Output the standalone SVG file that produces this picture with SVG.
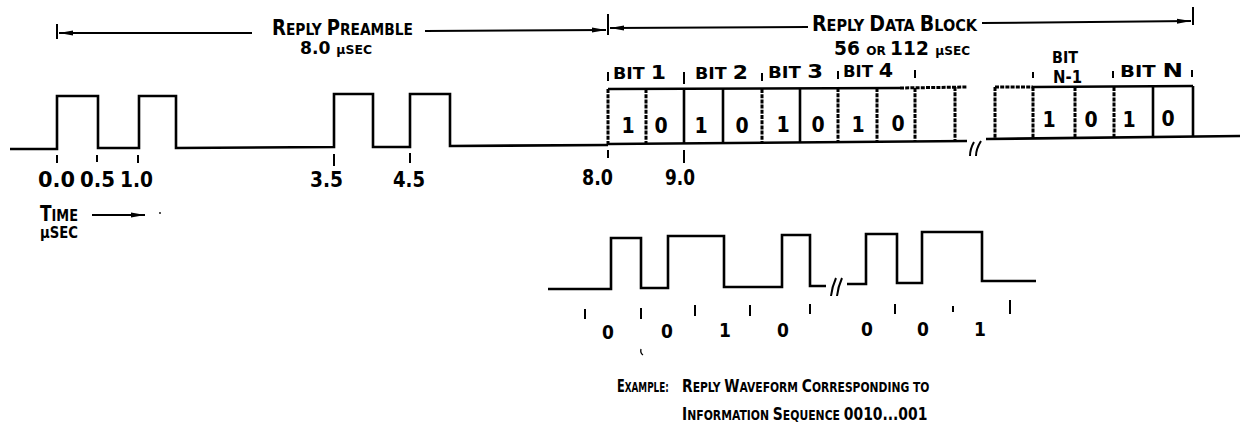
<svg xmlns="http://www.w3.org/2000/svg" width="1240" height="440" viewBox="0 0 1240 440">
<defs>
<marker id="ah" viewBox="0 0 14 6" refX="14" refY="3" markerWidth="14" markerHeight="6" markerUnits="userSpaceOnUse" orient="auto-start-reverse">
<path d="M0,0.5 L14,3 L0,5.5 z" fill="#000"/>
</marker>
<style>
.w{fill:none;stroke:#000;stroke-width:2.6;stroke-linejoin:miter}
.s{fill:none;stroke:#000;stroke-width:2.6}
.d{fill:none;stroke:#000;stroke-width:3;stroke-dasharray:4 1.2}
.tk{fill:none;stroke:#000;stroke-width:2}
.dim{fill:none;stroke:#000;stroke-width:2}
.t{font-family:"DejaVu Sans Condensed","DejaVu Sans",sans-serif;font-weight:bold;fill:#000}
.b{font-size:21px}
.m{font-size:16px}
.sm{font-size:13px}
.dg{font-size:21px;text-anchor:middle}
.bd{font-size:19px;text-anchor:middle}
.lb{font-size:22px}
.cb{font-size:18px}
.cs{font-size:14px}
</style>
</defs>

<g id="dimensions">
<line class="dim" x1="59" y1="33" x2="252" y2="33" marker-start="url(#ah)"/>
<line class="dim" x1="425" y1="31" x2="606" y2="30" marker-end="url(#ah)"/>
<line class="tk" x1="57" y1="24" x2="57" y2="39"/>
<line class="tk" x1="608" y1="14" x2="608" y2="35"/>
<line class="dim" x1="610" y1="28" x2="808" y2="27" marker-start="url(#ah)"/>
<line class="dim" x1="982" y1="23" x2="1191" y2="21" marker-end="url(#ah)"/>
<line class="tk" x1="1193" y1="7" x2="1193" y2="25"/>
<line class="dim" x1="92" y1="215" x2="145" y2="215" marker-end="url(#ah)"/>
<circle cx="160" cy="213" r="0.9" fill="#000"/>
</g>

<g id="preamble-waveform">
<polyline class="w" points="10,149 57,149 57,96 98,96 98,148 139,148 139,96 176,96 176,148 334,147 334,94 373,94 373,147 410,147 410,94 450,94 450,146 608,145"/>
<g id="preamble-ticks">
<line class="tk" x1="57" y1="155" x2="57" y2="163"/>
<line class="tk" x1="97" y1="155" x2="97" y2="162"/>
<line class="tk" x1="138" y1="155" x2="138" y2="163"/>
<line class="tk" x1="334" y1="154" x2="334" y2="166"/>
<line class="tk" x1="410" y1="153" x2="410" y2="163"/>
<line class="tk" x1="608" y1="150" x2="608" y2="158"/>
<line class="tk" x1="684" y1="150" x2="684" y2="163"/>
</g>
<text class="t lb" x="38" y="187" textLength="37" lengthAdjust="spacingAndGlyphs">0.0</text>
<text class="t lb" x="80" y="187" textLength="35" lengthAdjust="spacingAndGlyphs">0.5</text>
<text class="t lb" x="120" y="187" textLength="33" lengthAdjust="spacingAndGlyphs">1.0</text>
<text class="t lb" x="310" y="187" textLength="33" lengthAdjust="spacingAndGlyphs">3.5</text>
<text class="t lb" x="393" y="187" textLength="32" lengthAdjust="spacingAndGlyphs">4.5</text>
<text class="t lb" x="582" y="185" textLength="31" lengthAdjust="spacingAndGlyphs">8.0</text>
<text class="t lb" x="665" y="185" textLength="30" lengthAdjust="spacingAndGlyphs">9.0</text>
</g>

<g id="labels-top">
<text class="t" x="272" y="35" textLength="141" lengthAdjust="spacingAndGlyphs"><tspan class="b">R</tspan><tspan class="m">EPLY </tspan><tspan class="b">P</tspan><tspan class="m">REAMBLE</tspan></text>
<text class="t" x="300" y="54" textLength="72" lengthAdjust="spacingAndGlyphs"><tspan font-size="18">8.0 </tspan><tspan class="sm">μSEC</tspan></text>
<text class="t" x="812" y="31" textLength="165" lengthAdjust="spacingAndGlyphs"><tspan class="b">R</tspan><tspan class="m">EPLY </tspan><tspan class="b">D</tspan><tspan class="m">ATA </tspan><tspan class="b">B</tspan><tspan class="m">LOCK</tspan></text>
<text class="t" x="834" y="55" textLength="136" lengthAdjust="spacingAndGlyphs"><tspan font-size="20">56 </tspan><tspan class="sm">OR </tspan><tspan font-size="20">112 </tspan><tspan class="sm">μSEC</tspan></text>
</g>

<g id="time-label">
<text class="t" x="40" y="221" textLength="38" lengthAdjust="spacingAndGlyphs"><tspan font-size="21">T</tspan><tspan class="m">IME</tspan></text>
<text class="t" font-size="15" x="40" y="238" textLength="38" lengthAdjust="spacingAndGlyphs">μSEC</text>
</g>

<g id="bit-block-1">
<line class="s" x1="608" y1="89" x2="900" y2="88"/>
<line class="d" x1="900" y1="88" x2="967" y2="87"/>
<line class="s" x1="608" y1="144" x2="967" y2="141"/>
<line class="d" x1="608" y1="89" x2="608" y2="145"/>
<line class="d" x1="646" y1="89" x2="646" y2="144"/>
<line class="s" x1="684" y1="89" x2="684" y2="144"/>
<line class="s" x1="723" y1="89" x2="723" y2="143"/>
<line class="d" x1="762" y1="89" x2="762" y2="143"/>
<line class="s" x1="800" y1="88" x2="800" y2="143"/>
<line class="d" x1="838" y1="88" x2="838" y2="142"/>
<line class="d" x1="877" y1="88" x2="877" y2="142"/>
<line class="d" x1="915" y1="88" x2="915" y2="142"/>
<line class="d" x1="955" y1="87" x2="955" y2="141"/>
<text class="t dg" x="628" y="133">1</text>
<text class="t dg" x="661" y="133">0</text>
<text class="t dg" x="701" y="133">1</text>
<text class="t dg" x="742" y="133">0</text>
<text class="t dg" x="783" y="132">1</text>
<text class="t dg" x="818" y="132">0</text>
<text class="t dg" x="858" y="132">1</text>
<text class="t dg" x="898" y="131">0</text>
<line class="tk" x1="608" y1="72" x2="608" y2="81"/>
<line class="tk" x1="684" y1="72" x2="684" y2="84"/>
<line class="tk" x1="762" y1="73" x2="762" y2="81"/>
<line class="tk" x1="838" y1="71" x2="838" y2="79"/>
<line class="tk" x1="915" y1="70" x2="915" y2="78"/>
<text class="t" x="613" y="79" textLength="53" lengthAdjust="spacingAndGlyphs"><tspan class="m">BIT </tspan><tspan font-size="20">1</tspan></text>
<text class="t" x="695" y="79" textLength="53" lengthAdjust="spacingAndGlyphs"><tspan class="m">BIT </tspan><tspan font-size="20">2</tspan></text>
<text class="t" x="768" y="78" textLength="55" lengthAdjust="spacingAndGlyphs"><tspan class="m">BIT </tspan><tspan font-size="20">3</tspan></text>
<text class="t" x="843" y="77" textLength="50" lengthAdjust="spacingAndGlyphs"><tspan class="m">BIT </tspan><tspan font-size="20">4</tspan></text>
</g>

<g id="break-top">
<path class="tk" d="M970,156 q0,-7 4,-14"/>
<path class="tk" d="M976,156 q0,-7 5,-15"/>
</g>

<g id="bit-block-2">
<line class="s" x1="986" y1="139" x2="1240" y2="136"/>
<line class="d" x1="995" y1="87" x2="1033" y2="87"/>
<line class="s" x1="1033" y1="87" x2="1193" y2="86"/>
<line class="d" x1="995" y1="87" x2="995" y2="139"/>
<line class="d" x1="1033" y1="87" x2="1033" y2="138"/>
<line class="d" x1="1075" y1="87" x2="1075" y2="138"/>
<line class="d" x1="1114" y1="87" x2="1114" y2="137"/>
<line class="s" x1="1153" y1="86" x2="1153" y2="137"/>
<line class="s" x1="1193" y1="86" x2="1193" y2="137"/>
<text class="t dg" x="1049" y="127">1</text>
<text class="t dg" x="1091" y="127">0</text>
<text class="t dg" x="1129" y="127">1</text>
<text class="t dg" x="1168" y="126">0</text>
<line class="tk" x1="1033" y1="72" x2="1033" y2="78"/>
<line class="tk" x1="1113" y1="71" x2="1113" y2="78"/>
<line class="tk" x1="1192" y1="70" x2="1192" y2="77"/>
<text class="t" font-size="15" x="1052" y="63" textLength="26" lengthAdjust="spacingAndGlyphs">BIT</text>
<text class="t" x="1053" y="83" font-size="17" textLength="29" lengthAdjust="spacingAndGlyphs">N-1</text>
<text class="t" x="1120" y="77" textLength="63" lengthAdjust="spacingAndGlyphs"><tspan class="m">BIT </tspan><tspan font-size="20">N</tspan></text>
</g>

<g id="example-waveform">
<polyline class="w" points="548,289 611,289 611,238 641,238 641,288 668,288 668,236 724,236 724,287 782,287 782,235 810,235 810,286 826,286"/>
<path class="tk" d="M831,296 q1,-9 5,-18"/>
<path class="tk" d="M837,296 q1,-9 5,-18"/>
<polyline class="w" points="847,284 866,284 866,234 897,234 897,283 922,283 922,232 982,232 982,281 1036,281"/>
<g id="example-ticks">
<line class="tk" x1="585" y1="309" x2="585" y2="319"/>
<line class="tk" x1="641" y1="308" x2="641" y2="319"/>
<line class="tk" x1="695" y1="305" x2="695" y2="316"/>
<line class="tk" x1="750" y1="305" x2="750" y2="316"/>
<line class="tk" x1="810" y1="304" x2="810" y2="314"/>
<line class="tk" x1="895" y1="304" x2="895" y2="314"/>
<line class="tk" x1="953" y1="306" x2="953" y2="312"/>
<line class="tk" x1="1010" y1="300" x2="1010" y2="314"/>
</g>
<text class="t bd" x="608" y="339">0</text>
<text class="t bd" x="667" y="338">0</text>
<text class="t bd" x="725" y="337">1</text>
<text class="t bd" x="783" y="337">0</text>
<text class="t bd" x="867" y="336">0</text>
<text class="t bd" x="923" y="336">0</text>
<text class="t bd" x="980" y="336">1</text>
<path d="M641,349 q-1,4 2,6" fill="none" stroke="#000" stroke-width="1.3"/>
</g>

<g id="caption">
<text class="t" transform="translate(617,392) scale(0.70,1)"><tspan class="cb">E</tspan><tspan class="cs">XAMPLE:</tspan></text>
<text class="t" transform="translate(682,392) scale(0.852,1)"><tspan class="cb">R</tspan><tspan class="cs">EPLY </tspan><tspan class="cb">W</tspan><tspan class="cs">AVEFORM </tspan><tspan class="cb">C</tspan><tspan class="cs">ORRESPONDING TO</tspan></text>
<text class="t" transform="translate(682,420) scale(0.86,1)"><tspan class="cb">I</tspan><tspan class="cs">NFORMATION </tspan><tspan class="cb">S</tspan><tspan class="cs">EQUENCE </tspan><tspan class="cb">0010...001</tspan></text>
</g>
</svg>
